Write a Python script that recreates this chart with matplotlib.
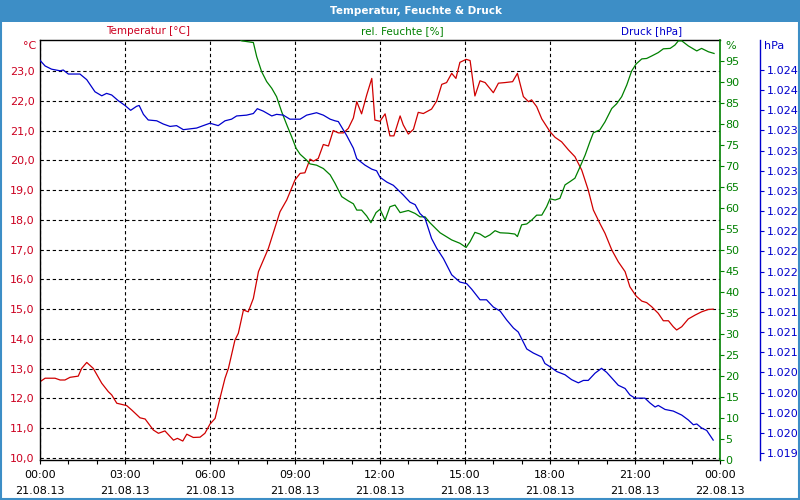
import numpy as np
import matplotlib
matplotlib.use('Agg')
import matplotlib.pyplot as plt
from matplotlib.patches import Rectangle
from matplotlib.ticker import FuncFormatter, MultipleLocator

plt.rcParams['font.family'] = ['DejaVu Sans']
plt.rcParams['font.size'] = 8

# Stunden ab 21.08.13 00:00
temp_h = [0, 0.18, 0.53, 0.71, 0.88, 1.06, 1.35, 1.47, 1.65, 1.88, 2.18, 2.41, 2.53, 2.71,
          3.06, 3.24, 3.53, 3.71, 4.0, 4.18, 4.41, 4.71, 4.85, 5.04, 5.18, 5.41, 5.65, 5.82,
          6.0, 6.18, 6.35, 6.53, 6.65, 6.88, 7.0, 7.18, 7.35, 7.53, 7.71, 8.06, 8.47, 8.71,
          9.0, 9.18, 9.35, 9.53, 9.65, 9.82, 10.0, 10.18, 10.35, 10.53, 10.71, 10.88, 11.06,
          11.18, 11.35, 11.53, 11.71, 11.82, 12.0, 12.18, 12.35, 12.49, 12.71, 12.82, 13.0,
          13.18, 13.35, 13.53, 13.82, 14.0, 14.18, 14.35, 14.53, 14.68, 14.82, 15.04, 15.18,
          15.35, 15.53, 15.71, 16.0, 16.18, 16.41, 16.68, 16.85, 17.06, 17.24, 17.35, 17.53,
          17.71, 18.0, 18.18, 18.41, 18.65, 18.88, 19.12, 19.35, 19.53, 19.76, 19.94, 20.18,
          20.41, 20.65, 20.82, 21.04, 21.24, 21.41, 21.59, 21.82, 22.0, 22.18, 22.35, 22.47,
          22.65, 22.88, 23.12, 23.35, 23.59, 23.76]
temp = [12.56, 12.68, 12.68, 12.62, 12.62, 12.71, 12.75, 13.01, 13.21, 13.01, 12.51, 12.23,
        12.12, 11.84, 11.76, 11.61, 11.35, 11.31, 10.94, 10.83, 10.91, 10.60, 10.66, 10.57,
        10.80, 10.69, 10.70, 10.83, 11.14, 11.33, 12.0, 12.68, 13.01, 13.96, 14.19, 14.97,
        14.91, 15.36, 16.26, 17.04, 18.27, 18.67, 19.34, 19.56, 19.58, 20.04, 19.97, 20.06,
        20.53, 20.48, 21.0, 20.92, 20.92, 21.07, 21.42, 21.97, 21.56, 22.19, 22.75, 21.35,
        21.31, 21.56, 20.82, 20.82, 21.49, 21.19, 20.88, 21.04, 21.61, 21.57, 21.72, 21.99,
        22.55, 22.61, 22.92, 22.75, 23.29, 23.39, 23.35, 22.16, 22.67, 22.61, 22.27, 22.59,
        22.61, 22.64, 22.92, 22.14, 21.97, 22.03, 21.80, 21.39, 20.96, 20.77, 20.62, 20.35,
        20.12, 19.67, 19.0, 18.33, 17.88, 17.55, 16.99, 16.59, 16.26, 15.75, 15.44, 15.27,
        15.22, 15.08, 14.86, 14.61, 14.61, 14.41, 14.30, 14.41, 14.67, 14.80, 14.91, 14.99,
        15.0]

hum_h = [0, 7.0, 7.12, 7.53, 7.65, 7.82, 8.0, 8.18, 8.35, 8.53, 8.71, 8.88, 9.04, 9.18,
         9.41, 9.53, 9.76, 10.0, 10.24, 10.41, 10.65, 10.88, 11.06, 11.18, 11.35, 11.53,
         11.68, 11.86, 12.0, 12.18, 12.35, 12.53, 12.71, 13.0, 13.24, 13.41, 13.59, 13.76,
         14.12, 14.53, 14.82, 15.04, 15.18, 15.35, 15.53, 15.71, 15.88, 16.06, 16.24, 16.53,
         16.76, 16.85, 17.0, 17.18, 17.35, 17.53, 17.71, 17.88, 18.0, 18.18, 18.35, 18.53,
         18.71, 18.88, 19.06, 19.24, 19.41, 19.53, 19.76, 19.94, 20.18, 20.35, 20.53, 20.71,
         20.88, 21.04, 21.24, 21.41, 21.59, 21.82, 22.0, 22.24, 22.41, 22.53, 22.65, 22.88,
         23.18, 23.35, 23.59, 23.79]
hum = [100.5, 100.5, 99.8, 99.4, 96.0, 92.5, 90.1, 88.5, 86.5, 82.9, 79.8, 77.0, 74.2, 72.8,
       71.4, 70.5, 70.2, 69.4, 67.9, 65.9, 62.7, 61.7, 61.0, 59.5, 59.5, 58.1, 56.5, 58.9,
       59.7, 57.1, 60.3, 60.7, 58.9, 59.4, 58.7, 57.9, 57.9, 56.5, 54.1, 52.4, 51.6, 50.6,
       52.0, 54.2, 53.8, 53.0, 53.6, 54.6, 54.1, 54.0, 53.8, 53.2, 56.0, 56.2, 57.1, 58.3,
       58.3, 60.3, 62.2, 61.9, 62.3, 65.5, 66.3, 67.1, 69.8, 72.6, 75.8, 77.9, 78.6, 80.5,
       83.7, 84.8, 86.5, 89.3, 92.6, 94.3, 95.5, 95.6, 96.2, 97.0, 97.9, 98.0, 98.8, 99.8,
       99.8, 98.6, 97.4, 98.0, 97.2, 96.8]

druck_h = [0, 0.18, 0.41, 0.71, 0.82, 1.0, 1.41, 1.65, 1.94, 2.18, 2.35, 2.53, 2.76, 3.0,
           3.2, 3.41, 3.5, 3.65, 3.82, 4.12, 4.35, 4.59, 4.82, 5.06, 5.53, 5.76, 6.0, 6.29,
           6.53, 6.76, 6.94, 7.29, 7.53, 7.67, 7.88, 8.18, 8.35, 8.59, 8.82, 9.18, 9.41, 9.76,
           10.0, 10.24, 10.41, 10.53, 10.82, 11.06, 11.18, 11.47, 11.71, 11.88, 12.0, 12.24,
           12.47, 12.82, 13.06, 13.24, 13.41, 13.59, 13.82, 14.0, 14.24, 14.53, 14.82, 15.06,
           15.24, 15.53, 15.76, 16.0, 16.24, 16.47, 16.71, 16.88, 17.18, 17.41, 17.71, 17.82,
           18.0, 18.24, 18.53, 18.76, 19.0, 19.18, 19.35, 19.59, 19.82, 20.0, 20.18, 20.41,
           20.65, 20.82, 21.0, 21.35, 21.53, 21.71, 21.82, 22.06, 22.35, 22.65, 22.88, 23.06,
           23.18, 23.35, 23.53, 23.76]
druck = [1024.12, 1024.05, 1024.01, 1023.99, 1024.0, 1023.95, 1023.95, 1023.88, 1023.73,
         1023.68, 1023.71, 1023.69, 1023.62, 1023.56, 1023.50, 1023.55, 1023.56, 1023.45,
         1023.38, 1023.37, 1023.33, 1023.30, 1023.31, 1023.26, 1023.28, 1023.31, 1023.34,
         1023.31, 1023.37, 1023.39, 1023.43, 1023.44, 1023.46, 1023.52, 1023.49, 1023.43,
         1023.45, 1023.44, 1023.39, 1023.39, 1023.44, 1023.47, 1023.44, 1023.39, 1023.37,
         1023.36, 1023.19, 1023.03, 1022.90, 1022.82, 1022.77, 1022.75, 1022.67, 1022.61,
         1022.57, 1022.45, 1022.36, 1022.33, 1022.22, 1022.16, 1021.91, 1021.79, 1021.66,
         1021.46, 1021.37, 1021.35, 1021.28, 1021.15, 1021.15, 1021.06, 1021.01, 1020.90,
         1020.80, 1020.75, 1020.54, 1020.49, 1020.44, 1020.36, 1020.32, 1020.26, 1020.22,
         1020.16, 1020.12, 1020.15, 1020.15, 1020.24, 1020.30, 1020.25, 1020.18, 1020.09,
         1020.05, 1019.97, 1019.93, 1019.93, 1019.87, 1019.82, 1019.84, 1019.79, 1019.77,
         1019.72, 1019.66, 1019.60, 1019.61, 1019.56, 1019.53, 1019.41]

x_ticks = [0, 3, 6, 9, 12, 15, 18, 21, 24]
x_labels = ['00:00\n21.08.13', '03:00\n21.08.13', '06:00\n21.08.13', '09:00\n21.08.13',
            '12:00\n21.08.13', '15:00\n21.08.13', '18:00\n21.08.13', '21:00\n21.08.13',
            '00:00\n22.08.13']
temp_ticks = list(range(10, 24))
hum_ticks = list(range(0, 100, 5))
druck_ticks = list(np.arange(1019.25, 1024.01, 0.25))

ROT = '#cc0020'
GRUEN = '#008000'
BLAU = '#0000cc'
RAHMEN = '#3d8ec6'

fig = plt.figure(figsize=(8, 5), dpi=100)
fig.set_facecolor('white')

# Titelleiste und Rahmen
fig.patches.append(Rectangle((0, 478 / 500), 1, 22 / 500, transform=fig.transFigure,
                             facecolor=RAHMEN, edgecolor='none', zorder=0))
fig.patches.append(Rectangle((0.001, 0.002), 0.998, 0.996, transform=fig.transFigure,
                             facecolor='none', edgecolor=RAHMEN, linewidth=1.5, zorder=0))
fig.text(0.52, 1 - 11 / 500, 'Temperatur, Feuchte & Druck', color='white', fontsize=7.5,
         fontweight='bold', ha='center', va='center')

ax = fig.add_axes([0.05, 0.08, 0.85, 0.84])
ax2 = ax.twinx()
ax3 = ax.twinx()

ax.plot(temp_h, temp, color='#d00000', lw=0.9)
ax2.plot(hum_h, hum, color=GRUEN, lw=0.9)
ax3.plot(druck_h, druck, color=BLAU, lw=0.9)

ax.set_xlim(0, 24)
ax.set_ylim(9.933, 24.04)
ax2.set_ylim(0, 100)
ax3.set_ylim(1019.163, 1024.372)

ax.set_xticks(x_ticks)
ax.set_xticklabels(x_labels, linespacing=1.8)
ax.xaxis.set_minor_locator(MultipleLocator(1))
ax.tick_params(axis='x', which='both', length=3, width=0.8, color='black', pad=4)
ax.set_yticks(temp_ticks)
ax.yaxis.set_major_formatter(FuncFormatter(lambda v, p: f'{v:.1f}'.replace('.', ',')))
ax.tick_params(axis='y', length=0, pad=4, labelcolor=ROT, labelsize=8)

grid_style = dict(color='black', lw=0.8, linestyle=(0, (3, 2.5)))
ax.grid(axis='y', **grid_style)
ax.grid(axis='x', which='major', **grid_style)

ax2.set_yticks(hum_ticks)
ax2.tick_params(axis='y', length=3, width=0.8, color=GRUEN, labelcolor=GRUEN, pad=1)

ax3.set_yticks(druck_ticks)
ax3.yaxis.set_major_formatter(
    FuncFormatter(lambda v, p: f'{int(np.floor(v + 0.5)):,}'.replace(',', '.')))
ax3.tick_params(axis='y', length=3, width=0.8, color=BLAU, labelcolor=BLAU, pad=2)
ax3.spines['right'].set_position(('axes', (760 - 40) / 680))

for s in ['top', 'left', 'bottom']:
    ax.spines[s].set_color('black')
    ax.spines[s].set_linewidth(1)
ax.spines['right'].set_visible(False)
for a in (ax2, ax3):
    for s in ['top', 'left', 'bottom']:
        a.spines[s].set_visible(False)
ax2.spines['right'].set_color(GRUEN)
ax2.spines['right'].set_linewidth(1.2)
ax3.spines['right'].set_color(BLAU)
ax3.spines['right'].set_linewidth(1)

# Achsenbeschriftungen oben
fig.text(148 / 800, 1 - 31 / 500, 'Temperatur [°C]', color=ROT, fontsize=7.5,
         ha='center', va='center')
fig.text(402 / 800, 1 - 31 / 500, 'rel. Feuchte [%]', color=GRUEN, fontsize=7.5,
         ha='center', va='center')
fig.text(652 / 800, 1 - 31 / 500, 'Druck [hPa]', color=BLAU, fontsize=7.5,
         ha='center', va='center')
fig.text(36 / 800, 1 - 46 / 500, '°C', color=ROT, ha='right', va='center')
fig.text(725 / 800, 1 - 46 / 500, '%', color=GRUEN, ha='left', va='center')
fig.text(764 / 800, 1 - 46 / 500, 'hPa', color=BLAU, ha='left', va='center')

fig.savefig('out.png', dpi=100, facecolor='white')
